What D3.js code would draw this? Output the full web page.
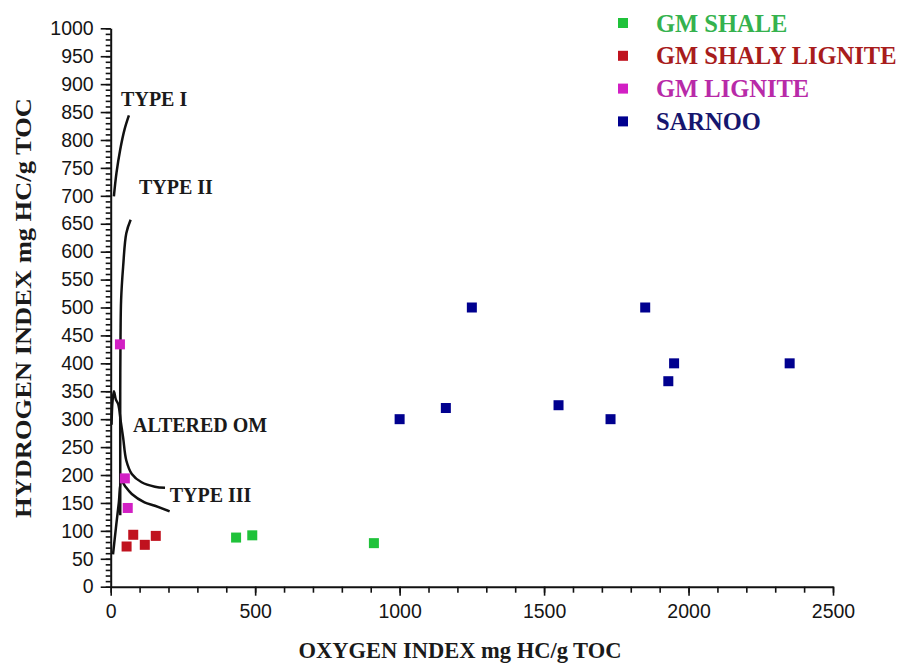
<!DOCTYPE html>
<html>
<head>
<meta charset="utf-8">
<script src="https://cdn.jsdelivr.net/npm/d3@7"></script>
<style>
  body { margin: 0; background: #fff; }
  .tick text { font-family: "Liberation Sans", Arial, sans-serif; }
</style>
</head>
<body>
<div id="chart"></div>
<script>
// sample values
var shaleOI = [434, 490, 911],
    shaleHI = [88, 92, 78];
var shalyLigniteOI = [55, 78, 118, 156],
    shalyLigniteHI = [72, 93, 75, 91];
var ligniteOI = [32, 49, 59],
    ligniteHI = [434, 194, 141];
var sarnooOI = [1000, 1160, 1250, 1550, 1730, 1850, 1950, 1930, 2350],
    sarnooHI = [300, 320, 500, 325, 300, 500, 400, 368, 400];

var seriesNames = ["GM SHALE", "GM SHALY LIGNITE", "GM LIGNITE", "SARNOO"];
var seriesColors = ["#1fc23a", "#c0121e", "#d21fc4", "#00008f"];
var textColors = ["#35b24e", "#a81c1c", "#b82aa8", "#16166e"];

// guide curves (OI, HI)
var typeI = [[11, 699], [20, 741], [33, 783], [48, 819], [63, 844]];
var typeII = [[69, 657], [54, 633], [43, 573], [36, 513], [34, 450], [33, 350], [33, 250], [33, 128]];
var alteredOM = [[3, 290], [6, 330], [11, 350], [18, 335], [26, 327], [35, 295], [43, 267], [54, 226],
                 [73, 202], [107, 187], [153, 179], [188, 177]];
var typeIII = [[8, 58], [18, 105], [28, 150], [37, 190], [50, 180], [73, 166], [117, 151], [153, 145], [204, 135]];

var curveLabels = ["TYPE I", "TYPE II", "ALTERED OM", "TYPE III"];
var curveLabelPos = [[36, 860], [98, 703], [77, 277], [204, 152]];

var xTicks = [0, 500, 1000, 1500, 2000, 2500];
var yTicks = d3.range(0, 1001, 50);

var width = 901, height = 663;

var svg = d3.select("#chart").append("svg")
    .attr("width", width)
    .attr("height", height)
    .style("background", "#fff");

var x = d3.scaleLinear().domain([0, 2500]).range([110.7, 833]);
var y = d3.scaleLinear().domain([0, 1000]).range([586.7, 28.3]);

// minor ticks first, then the labelled axis on top
svg.append("g")
    .attr("transform", "translate(0," + y(0) + ")")
    .call(d3.axisBottom(x).tickValues(d3.range(0, 2501, 100)).tickSize(6).tickFormat(""))
    .call(function(g) { g.select(".domain").remove(); });
svg.append("g")
    .attr("transform", "translate(" + x(0) + ",0)")
    .call(d3.axisLeft(y).tickValues(d3.range(0, 1001, 10)).tickSize(5).tickFormat(""))
    .call(function(g) { g.select(".domain").remove(); });

var xAxis = svg.append("g")
    .attr("transform", "translate(0," + y(0) + ")")
    .call(d3.axisBottom(x).tickValues(xTicks).tickSize(9).tickSizeOuter(0).tickPadding(8).tickFormat(d3.format("d")));
var yAxis = svg.append("g")
    .attr("transform", "translate(" + x(0) + ",0)")
    .call(d3.axisLeft(y).tickValues(yTicks).tickSize(10).tickSizeOuter(0).tickPadding(7).tickFormat(d3.format("d")));

svg.selectAll(".domain").attr("stroke", "#111").attr("stroke-width", 2);
svg.selectAll(".tick line").attr("stroke", "#111").attr("stroke-width", 1.6);
svg.selectAll(".tick text").attr("font-size", 19.5).attr("fill", "#151515");

// guide curves
var line = d3.line()
    .x(function(d) { return x(d[0]); })
    .y(function(d) { return y(d[1]); })
    .curve(d3.curveCatmullRom);

[typeI, typeII, alteredOM, typeIII].forEach(function(c) {
  svg.append("path")
    .datum(c)
    .attr("d", line)
    .attr("fill", "none")
    .attr("stroke", "#111")
    .attr("stroke-width", 2.5);
});

svg.selectAll(".curveLabel")
    .data(curveLabels)
  .enter().append("text")
    .attr("class", "curveLabel")
    .attr("x", function(d, i) { return x(curveLabelPos[i][0]); })
    .attr("y", function(d, i) { return y(curveLabelPos[i][1]); })
    .attr("font-family", "'Liberation Serif', 'Times New Roman', serif")
    .attr("font-weight", "bold")
    .attr("font-size", 20)
    .attr("fill", "#1a1a1a")
    .text(function(d) { return d; });

// points
var series = [
  {oi: shaleOI, hi: shaleHI},
  {oi: shalyLigniteOI, hi: shalyLigniteHI},
  {oi: ligniteOI, hi: ligniteHI},
  {oi: sarnooOI, hi: sarnooHI}
];
var sz = 10;
series.forEach(function(s, k) {
  svg.append("g").selectAll("rect")
    .data(s.oi)
  .enter().append("rect")
    .attr("x", function(d) { return x(d) - sz / 2; })
    .attr("y", function(d, i) { return y(s.hi[i]) - sz / 2; })
    .attr("width", sz)
    .attr("height", sz)
    .attr("fill", seriesColors[k]);
});

// legend
var legend = svg.append("g").attr("transform", "translate(618,23)");
seriesNames.forEach(function(n, i) {
  legend.append("rect")
    .attr("x", 0).attr("y", i * 32.8 - 5)
    .attr("width", 10).attr("height", 10)
    .attr("fill", seriesColors[i]);
  legend.append("text")
    .attr("x", 38).attr("y", i * 32.8 + 8.5)
    .attr("font-family", "'Liberation Serif', 'Times New Roman', serif")
    .attr("font-weight", "bold")
    .attr("font-size", 24.5)
    .attr("fill", textColors[i])
    .text(n);
});

// axis titles
svg.append("text")
    .attr("x", 460).attr("y", 658)
    .attr("text-anchor", "middle")
    .attr("font-family", "'Liberation Serif', 'Times New Roman', serif")
    .attr("font-weight", "bold")
    .attr("font-size", 22.5)
    .attr("fill", "#1a1a1a")
    .text("OXYGEN INDEX mg HC/g TOC");

svg.append("text")
    .attr("transform", "translate(31,308) rotate(-90)")
    .attr("text-anchor", "middle")
    .attr("font-family", "'Liberation Serif', 'Times New Roman', serif")
    .attr("font-weight", "bold")
    .attr("font-size", 24)
    .attr("textLength", 420)
    .attr("lengthAdjust", "spacingAndGlyphs")
    .attr("fill", "#1a1a1a")
    .text("HYDROGEN INDEX mg HC/g TOC");
</script>
</body>
</html>
